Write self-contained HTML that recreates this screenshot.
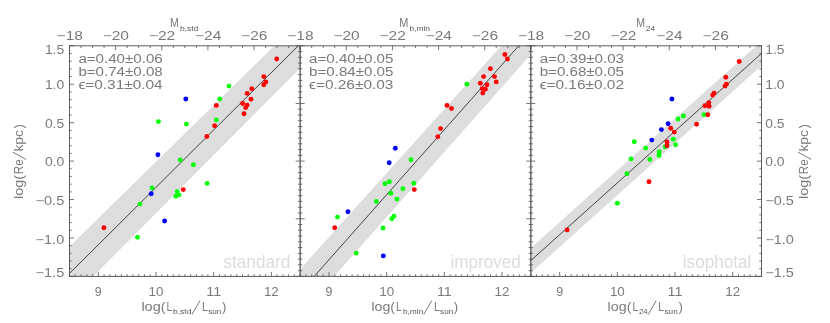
<!DOCTYPE html>
<html><head><meta charset="utf-8"><title>plot</title>
<style>html,body{margin:0;padding:0;background:#fff;width:830px;height:323px;overflow:hidden}svg{will-change:transform}</style></head>
<body>
<svg width="830" height="323" viewBox="0 0 830 323" style="display:block;position:absolute;left:0;top:0" font-family="'Liberation Sans', sans-serif">
<rect x="0" y="0" width="830" height="323" fill="#ffffff"/>
<defs>
<clipPath id="c0"><rect x="69.50" y="45.80" width="230.67" height="230.60"/></clipPath>
<clipPath id="c1"><rect x="300.17" y="45.80" width="230.67" height="230.60"/></clipPath>
<clipPath id="c2"><rect x="530.84" y="45.80" width="230.67" height="230.60"/></clipPath>
</defs>
<g clip-path="url(#c0)">
<polygon points="39.50,275.79 330.17,-8.93 330.17,37.94 39.50,330.44" fill="#dddddd"/>
<line x1="39.50" y1="303.24" x2="330.17" y2="14.10" stroke="#333" stroke-width="0.9"/>
</g>
<g clip-path="url(#c1)">
<polygon points="270.17,302.52 560.84,-20.30 560.84,20.60 270.17,348.52" fill="#dddddd"/>
<line x1="270.17" y1="326.04" x2="560.84" y2="-1.69" stroke="#333" stroke-width="0.9"/>
</g>
<g clip-path="url(#c2)">
<polygon points="500.84,274.98 791.51,14.17 791.51,38.86 500.84,299.80" fill="#dddddd"/>
<line x1="500.84" y1="287.51" x2="791.51" y2="26.45" stroke="#333" stroke-width="0.9"/>
</g>
<text x="223.3" y="267.6" font-size="17.5" fill="#dcdcdc" textLength="67.1" lengthAdjust="spacingAndGlyphs">standard</text>
<text x="450.4" y="267.6" font-size="17.5" fill="#dcdcdc" textLength="70.4" lengthAdjust="spacingAndGlyphs">improved</text>
<text x="682.8" y="267.6" font-size="17.5" fill="#dcdcdc" textLength="68.5" lengthAdjust="spacingAndGlyphs">isophotal</text>
<circle cx="185.8" cy="99.0" r="2.45" fill="#0000ff"/>
<circle cx="157.9" cy="154.7" r="2.45" fill="#0000ff"/>
<circle cx="151.2" cy="193.8" r="2.45" fill="#0000ff"/>
<circle cx="164.6" cy="221.0" r="2.45" fill="#0000ff"/>
<circle cx="228.9" cy="86.1" r="2.45" fill="#00ff00"/>
<circle cx="219.7" cy="99.0" r="2.45" fill="#00ff00"/>
<circle cx="216.3" cy="119.9" r="2.45" fill="#00ff00"/>
<circle cx="158.4" cy="121.6" r="2.45" fill="#00ff00"/>
<circle cx="186.4" cy="124.1" r="2.45" fill="#00ff00"/>
<circle cx="180.2" cy="160.0" r="2.45" fill="#00ff00"/>
<circle cx="193.4" cy="164.7" r="2.45" fill="#00ff00"/>
<circle cx="207.1" cy="183.4" r="2.45" fill="#00ff00"/>
<circle cx="152.0" cy="187.9" r="2.45" fill="#00ff00"/>
<circle cx="177.2" cy="191.6" r="2.45" fill="#00ff00"/>
<circle cx="178.9" cy="194.9" r="2.45" fill="#00ff00"/>
<circle cx="175.8" cy="196.3" r="2.45" fill="#00ff00"/>
<circle cx="140.0" cy="204.1" r="2.45" fill="#00ff00"/>
<circle cx="137.5" cy="237.2" r="2.45" fill="#00ff00"/>
<circle cx="276.7" cy="59.0" r="2.45" fill="#ff0000"/>
<circle cx="263.8" cy="76.6" r="2.45" fill="#ff0000"/>
<circle cx="265.8" cy="81.9" r="2.45" fill="#ff0000"/>
<circle cx="263.8" cy="84.7" r="2.45" fill="#ff0000"/>
<circle cx="251.8" cy="88.7" r="2.45" fill="#ff0000"/>
<circle cx="247.2" cy="93.4" r="2.45" fill="#ff0000"/>
<circle cx="251.0" cy="99.3" r="2.45" fill="#ff0000"/>
<circle cx="242.6" cy="103.5" r="2.45" fill="#ff0000"/>
<circle cx="247.1" cy="105.1" r="2.45" fill="#ff0000"/>
<circle cx="245.7" cy="107.6" r="2.45" fill="#ff0000"/>
<circle cx="244.0" cy="113.8" r="2.45" fill="#ff0000"/>
<circle cx="216.3" cy="105.4" r="2.45" fill="#ff0000"/>
<circle cx="214.6" cy="125.8" r="2.45" fill="#ff0000"/>
<circle cx="206.8" cy="136.5" r="2.45" fill="#ff0000"/>
<circle cx="183.3" cy="189.6" r="2.45" fill="#ff0000"/>
<circle cx="103.9" cy="227.7" r="2.45" fill="#ff0000"/>
<circle cx="395.3" cy="148.2" r="2.45" fill="#0000ff"/>
<circle cx="389.2" cy="162.8" r="2.45" fill="#0000ff"/>
<circle cx="347.9" cy="211.8" r="2.45" fill="#0000ff"/>
<circle cx="383.3" cy="255.9" r="2.45" fill="#0000ff"/>
<circle cx="466.9" cy="84.2" r="2.45" fill="#00ff00"/>
<circle cx="411.0" cy="159.7" r="2.45" fill="#00ff00"/>
<circle cx="389.4" cy="181.8" r="2.45" fill="#00ff00"/>
<circle cx="385.0" cy="183.7" r="2.45" fill="#00ff00"/>
<circle cx="413.8" cy="183.2" r="2.45" fill="#00ff00"/>
<circle cx="402.9" cy="188.8" r="2.45" fill="#00ff00"/>
<circle cx="390.8" cy="193.2" r="2.45" fill="#00ff00"/>
<circle cx="397.0" cy="199.1" r="2.45" fill="#00ff00"/>
<circle cx="376.3" cy="201.5" r="2.45" fill="#00ff00"/>
<circle cx="337.5" cy="217.1" r="2.45" fill="#00ff00"/>
<circle cx="393.9" cy="216.2" r="2.45" fill="#00ff00"/>
<circle cx="391.7" cy="218.8" r="2.45" fill="#00ff00"/>
<circle cx="383.0" cy="228.0" r="2.45" fill="#00ff00"/>
<circle cx="356.2" cy="253.1" r="2.45" fill="#00ff00"/>
<circle cx="504.9" cy="54.5" r="2.45" fill="#ff0000"/>
<circle cx="507.4" cy="59.0" r="2.45" fill="#ff0000"/>
<circle cx="490.4" cy="68.8" r="2.45" fill="#ff0000"/>
<circle cx="483.6" cy="76.6" r="2.45" fill="#ff0000"/>
<circle cx="494.5" cy="76.6" r="2.45" fill="#ff0000"/>
<circle cx="496.2" cy="81.9" r="2.45" fill="#ff0000"/>
<circle cx="480.3" cy="83.3" r="2.45" fill="#ff0000"/>
<circle cx="487.0" cy="84.7" r="2.45" fill="#ff0000"/>
<circle cx="482.2" cy="88.6" r="2.45" fill="#ff0000"/>
<circle cx="485.3" cy="89.2" r="2.45" fill="#ff0000"/>
<circle cx="482.8" cy="93.1" r="2.45" fill="#ff0000"/>
<circle cx="447.0" cy="105.4" r="2.45" fill="#ff0000"/>
<circle cx="451.5" cy="108.5" r="2.45" fill="#ff0000"/>
<circle cx="440.6" cy="128.6" r="2.45" fill="#ff0000"/>
<circle cx="437.8" cy="136.8" r="2.45" fill="#ff0000"/>
<circle cx="414.3" cy="189.6" r="2.45" fill="#ff0000"/>
<circle cx="334.7" cy="227.7" r="2.45" fill="#ff0000"/>
<circle cx="671.9" cy="99.0" r="2.45" fill="#0000ff"/>
<circle cx="668.1" cy="123.8" r="2.45" fill="#0000ff"/>
<circle cx="661.4" cy="129.6" r="2.45" fill="#0000ff"/>
<circle cx="651.8" cy="140.1" r="2.45" fill="#0000ff"/>
<circle cx="703.9" cy="114.8" r="2.45" fill="#00ff00"/>
<circle cx="683.4" cy="116.0" r="2.45" fill="#00ff00"/>
<circle cx="678.0" cy="119.0" r="2.45" fill="#00ff00"/>
<circle cx="673.3" cy="139.2" r="2.45" fill="#00ff00"/>
<circle cx="634.2" cy="141.7" r="2.45" fill="#00ff00"/>
<circle cx="675.6" cy="144.7" r="2.45" fill="#00ff00"/>
<circle cx="665.2" cy="146.8" r="2.45" fill="#00ff00"/>
<circle cx="645.7" cy="148.1" r="2.45" fill="#00ff00"/>
<circle cx="659.2" cy="151.8" r="2.45" fill="#00ff00"/>
<circle cx="659.0" cy="155.5" r="2.45" fill="#00ff00"/>
<circle cx="631.0" cy="158.9" r="2.45" fill="#00ff00"/>
<circle cx="649.8" cy="159.4" r="2.45" fill="#00ff00"/>
<circle cx="626.9" cy="173.7" r="2.45" fill="#00ff00"/>
<circle cx="617.4" cy="203.3" r="2.45" fill="#00ff00"/>
<circle cx="739.2" cy="61.5" r="2.45" fill="#ff0000"/>
<circle cx="725.8" cy="77.2" r="2.45" fill="#ff0000"/>
<circle cx="726.4" cy="84.2" r="2.45" fill="#ff0000"/>
<circle cx="725.0" cy="86.1" r="2.45" fill="#ff0000"/>
<circle cx="714.1" cy="93.1" r="2.45" fill="#ff0000"/>
<circle cx="712.7" cy="95.1" r="2.45" fill="#ff0000"/>
<circle cx="708.8" cy="102.6" r="2.45" fill="#ff0000"/>
<circle cx="704.9" cy="105.7" r="2.45" fill="#ff0000"/>
<circle cx="709.1" cy="106.2" r="2.45" fill="#ff0000"/>
<circle cx="707.8" cy="114.8" r="2.45" fill="#ff0000"/>
<circle cx="696.6" cy="124.2" r="2.45" fill="#ff0000"/>
<circle cx="670.7" cy="128.2" r="2.45" fill="#ff0000"/>
<circle cx="674.3" cy="132.1" r="2.45" fill="#ff0000"/>
<circle cx="667.0" cy="142.0" r="2.45" fill="#ff0000"/>
<circle cx="667.0" cy="145.7" r="2.45" fill="#ff0000"/>
<circle cx="649.0" cy="181.8" r="2.45" fill="#ff0000"/>
<circle cx="567.1" cy="229.9" r="2.45" fill="#ff0000"/>
<path d="M69.50 276.40L69.50 274.20M75.27 276.40L75.27 274.20M81.03 276.40L81.03 274.20M86.80 276.40L86.80 274.20M92.57 276.40L92.57 274.20M98.33 276.40L98.33 271.90M104.10 276.40L104.10 274.20M109.87 276.40L109.87 274.20M115.63 276.40L115.63 274.20M121.40 276.40L121.40 274.20M127.17 276.40L127.17 274.20M132.93 276.40L132.93 274.20M138.70 276.40L138.70 274.20M144.47 276.40L144.47 274.20M150.23 276.40L150.23 274.20M156.00 276.40L156.00 271.90M161.77 276.40L161.77 274.20M167.53 276.40L167.53 274.20M173.30 276.40L173.30 274.20M179.07 276.40L179.07 274.20M184.83 276.40L184.83 274.20M190.60 276.40L190.60 274.20M196.37 276.40L196.37 274.20M202.14 276.40L202.14 274.20M207.90 276.40L207.90 274.20M213.67 276.40L213.67 271.90M219.44 276.40L219.44 274.20M225.20 276.40L225.20 274.20M230.97 276.40L230.97 274.20M236.74 276.40L236.74 274.20M242.50 276.40L242.50 274.20M248.27 276.40L248.27 274.20M254.04 276.40L254.04 274.20M259.80 276.40L259.80 274.20M265.57 276.40L265.57 274.20M271.34 276.40L271.34 271.90M277.10 276.40L277.10 274.20M282.87 276.40L282.87 274.20M288.64 276.40L288.64 274.20M294.40 276.40L294.40 274.20M300.17 276.40L300.17 274.20M69.50 45.80L69.50 50.30M81.03 45.80L81.03 48.00M92.57 45.80L92.57 48.00M104.10 45.80L104.10 48.00M115.63 45.80L115.63 50.30M127.17 45.80L127.17 48.00M138.70 45.80L138.70 48.00M150.23 45.80L150.23 48.00M161.77 45.80L161.77 50.30M173.30 45.80L173.30 48.00M184.83 45.80L184.83 48.00M196.37 45.80L196.37 48.00M207.90 45.80L207.90 50.30M219.44 45.80L219.44 48.00M230.97 45.80L230.97 48.00M242.50 45.80L242.50 48.00M254.04 45.80L254.04 50.30M265.57 45.80L265.57 48.00M277.10 45.80L277.10 48.00M288.64 45.80L288.64 48.00M300.17 45.80L300.17 50.30M300.17 276.40L300.17 274.20M305.94 276.40L305.94 274.20M311.70 276.40L311.70 274.20M317.47 276.40L317.47 274.20M323.24 276.40L323.24 274.20M329.00 276.40L329.00 271.90M334.77 276.40L334.77 274.20M340.54 276.40L340.54 274.20M346.30 276.40L346.30 274.20M352.07 276.40L352.07 274.20M357.84 276.40L357.84 274.20M363.60 276.40L363.60 274.20M369.37 276.40L369.37 274.20M375.14 276.40L375.14 274.20M380.90 276.40L380.90 274.20M386.67 276.40L386.67 271.90M392.44 276.40L392.44 274.20M398.20 276.40L398.20 274.20M403.97 276.40L403.97 274.20M409.74 276.40L409.74 274.20M415.50 276.40L415.50 274.20M421.27 276.40L421.27 274.20M427.04 276.40L427.04 274.20M432.81 276.40L432.81 274.20M438.57 276.40L438.57 274.20M444.34 276.40L444.34 271.90M450.11 276.40L450.11 274.20M455.87 276.40L455.87 274.20M461.64 276.40L461.64 274.20M467.41 276.40L467.41 274.20M473.17 276.40L473.17 274.20M478.94 276.40L478.94 274.20M484.71 276.40L484.71 274.20M490.47 276.40L490.47 274.20M496.24 276.40L496.24 274.20M502.01 276.40L502.01 271.90M507.77 276.40L507.77 274.20M513.54 276.40L513.54 274.20M519.31 276.40L519.31 274.20M525.07 276.40L525.07 274.20M530.84 276.40L530.84 274.20M300.17 45.80L300.17 50.30M311.70 45.80L311.70 48.00M323.24 45.80L323.24 48.00M334.77 45.80L334.77 48.00M346.30 45.80L346.30 50.30M357.84 45.80L357.84 48.00M369.37 45.80L369.37 48.00M380.90 45.80L380.90 48.00M392.44 45.80L392.44 50.30M403.97 45.80L403.97 48.00M415.50 45.80L415.50 48.00M427.04 45.80L427.04 48.00M438.57 45.80L438.57 50.30M450.11 45.80L450.11 48.00M461.64 45.80L461.64 48.00M473.17 45.80L473.17 48.00M484.71 45.80L484.71 50.30M496.24 45.80L496.24 48.00M507.77 45.80L507.77 48.00M519.31 45.80L519.31 48.00M530.84 45.80L530.84 50.30M530.84 276.40L530.84 274.20M536.61 276.40L536.61 274.20M542.37 276.40L542.37 274.20M548.14 276.40L548.14 274.20M553.91 276.40L553.91 274.20M559.67 276.40L559.67 271.90M565.44 276.40L565.44 274.20M571.21 276.40L571.21 274.20M576.97 276.40L576.97 274.20M582.74 276.40L582.74 274.20M588.51 276.40L588.51 274.20M594.27 276.40L594.27 274.20M600.04 276.40L600.04 274.20M605.81 276.40L605.81 274.20M611.57 276.40L611.57 274.20M617.34 276.40L617.34 271.90M623.11 276.40L623.11 274.20M628.87 276.40L628.87 274.20M634.64 276.40L634.64 274.20M640.41 276.40L640.41 274.20M646.17 276.40L646.17 274.20M651.94 276.40L651.94 274.20M657.71 276.40L657.71 274.20M663.48 276.40L663.48 274.20M669.24 276.40L669.24 274.20M675.01 276.40L675.01 271.90M680.78 276.40L680.78 274.20M686.54 276.40L686.54 274.20M692.31 276.40L692.31 274.20M698.08 276.40L698.08 274.20M703.84 276.40L703.84 274.20M709.61 276.40L709.61 274.20M715.38 276.40L715.38 274.20M721.14 276.40L721.14 274.20M726.91 276.40L726.91 274.20M732.68 276.40L732.68 271.90M738.44 276.40L738.44 274.20M744.21 276.40L744.21 274.20M749.98 276.40L749.98 274.20M755.74 276.40L755.74 274.20M761.51 276.40L761.51 274.20M530.84 45.80L530.84 50.30M542.37 45.80L542.37 48.00M553.91 45.80L553.91 48.00M565.44 45.80L565.44 48.00M576.97 45.80L576.97 50.30M588.51 45.80L588.51 48.00M600.04 45.80L600.04 48.00M611.57 45.80L611.57 48.00M623.11 45.80L623.11 50.30M634.64 45.80L634.64 48.00M646.17 45.80L646.17 48.00M657.71 45.80L657.71 48.00M669.24 45.80L669.24 50.30M680.78 45.80L680.78 48.00M692.31 45.80L692.31 48.00M703.84 45.80L703.84 48.00M715.38 45.80L715.38 50.30M726.91 45.80L726.91 48.00M738.44 45.80L738.44 48.00M749.98 45.80L749.98 48.00M761.51 45.80L761.51 50.30M69.50 45.80L74.00 45.80M761.51 45.80L757.01 45.80M69.50 53.49L71.70 53.49M761.51 53.49L759.31 53.49M69.50 61.17L71.70 61.17M761.51 61.17L759.31 61.17M69.50 68.86L71.70 68.86M761.51 68.86L759.31 68.86M69.50 76.55L71.70 76.55M761.51 76.55L759.31 76.55M69.50 84.23L74.00 84.23M761.51 84.23L757.01 84.23M69.50 91.92L71.70 91.92M761.51 91.92L759.31 91.92M69.50 99.61L71.70 99.61M761.51 99.61L759.31 99.61M69.50 107.29L71.70 107.29M761.51 107.29L759.31 107.29M69.50 114.98L71.70 114.98M761.51 114.98L759.31 114.98M69.50 122.67L74.00 122.67M761.51 122.67L757.01 122.67M69.50 130.35L71.70 130.35M761.51 130.35L759.31 130.35M69.50 138.04L71.70 138.04M761.51 138.04L759.31 138.04M69.50 145.73L71.70 145.73M761.51 145.73L759.31 145.73M69.50 153.41L71.70 153.41M761.51 153.41L759.31 153.41M69.50 161.10L74.00 161.10M761.51 161.10L757.01 161.10M69.50 168.79L71.70 168.79M761.51 168.79L759.31 168.79M69.50 176.47L71.70 176.47M761.51 176.47L759.31 176.47M69.50 184.16L71.70 184.16M761.51 184.16L759.31 184.16M69.50 191.85L71.70 191.85M761.51 191.85L759.31 191.85M69.50 199.53L74.00 199.53M761.51 199.53L757.01 199.53M69.50 207.22L71.70 207.22M761.51 207.22L759.31 207.22M69.50 214.91L71.70 214.91M761.51 214.91L759.31 214.91M69.50 222.59L71.70 222.59M761.51 222.59L759.31 222.59M69.50 230.28L71.70 230.28M761.51 230.28L759.31 230.28M69.50 237.97L74.00 237.97M761.51 237.97L757.01 237.97M69.50 245.65L71.70 245.65M761.51 245.65L759.31 245.65M69.50 253.34L71.70 253.34M761.51 253.34L759.31 253.34M69.50 261.03L71.70 261.03M761.51 261.03L759.31 261.03M69.50 268.71L71.70 268.71M761.51 268.71L759.31 268.71M69.50 276.40L74.00 276.40M761.51 276.40L757.01 276.40M295.67 45.80L304.67 45.80M297.97 51.56L302.37 51.56M297.97 57.33L302.37 57.33M297.97 63.09L302.37 63.09M297.97 68.86L302.37 68.86M297.97 74.62L302.37 74.62M297.97 80.39L302.37 80.39M297.97 86.16L302.37 86.16M297.97 91.92L302.37 91.92M297.97 97.68L302.37 97.68M295.67 103.45L304.67 103.45M297.97 109.21L302.37 109.21M297.97 114.98L302.37 114.98M297.97 120.74L302.37 120.74M297.97 126.51L302.37 126.51M297.97 132.27L302.37 132.27M297.97 138.04L302.37 138.04M297.97 143.80L302.37 143.80M297.97 149.57L302.37 149.57M297.97 155.33L302.37 155.33M295.67 161.10L304.67 161.10M297.97 166.86L302.37 166.86M297.97 172.63L302.37 172.63M297.97 178.39L302.37 178.39M297.97 184.16L302.37 184.16M297.97 189.92L302.37 189.92M297.97 195.69L302.37 195.69M297.97 201.45L302.37 201.45M297.97 207.22L302.37 207.22M297.97 212.98L302.37 212.98M295.67 218.75L304.67 218.75M297.97 224.51L302.37 224.51M297.97 230.28L302.37 230.28M297.97 236.04L302.37 236.04M297.97 241.81L302.37 241.81M297.97 247.57L302.37 247.57M297.97 253.34L302.37 253.34M297.97 259.10L302.37 259.10M297.97 264.87L302.37 264.87M297.97 270.63L302.37 270.63M295.67 276.40L304.67 276.40M526.34 45.80L535.34 45.80M528.64 51.56L533.04 51.56M528.64 57.33L533.04 57.33M528.64 63.09L533.04 63.09M528.64 68.86L533.04 68.86M528.64 74.62L533.04 74.62M528.64 80.39L533.04 80.39M528.64 86.16L533.04 86.16M528.64 91.92L533.04 91.92M528.64 97.68L533.04 97.68M526.34 103.45L535.34 103.45M528.64 109.21L533.04 109.21M528.64 114.98L533.04 114.98M528.64 120.74L533.04 120.74M528.64 126.51L533.04 126.51M528.64 132.27L533.04 132.27M528.64 138.04L533.04 138.04M528.64 143.80L533.04 143.80M528.64 149.57L533.04 149.57M528.64 155.33L533.04 155.33M526.34 161.10L535.34 161.10M528.64 166.86L533.04 166.86M528.64 172.63L533.04 172.63M528.64 178.39L533.04 178.39M528.64 184.16L533.04 184.16M528.64 189.92L533.04 189.92M528.64 195.69L533.04 195.69M528.64 201.45L533.04 201.45M528.64 207.22L533.04 207.22M528.64 212.98L533.04 212.98M526.34 218.75L535.34 218.75M528.64 224.51L533.04 224.51M528.64 230.28L533.04 230.28M528.64 236.04L533.04 236.04M528.64 241.81L533.04 241.81M528.64 247.57L533.04 247.57M528.64 253.34L533.04 253.34M528.64 259.10L533.04 259.10M528.64 264.87L533.04 264.87M528.64 270.63L533.04 270.63M526.34 276.40L535.34 276.40" stroke="#686868" stroke-width="0.9" fill="none"/>
<rect x="69.50" y="45.80" width="692.01" height="230.60" fill="none" stroke="#555555" stroke-width="0.95"/>
<line x1="300.17" y1="45.80" x2="300.17" y2="276.40" stroke="#555555" stroke-width="1.3"/>
<line x1="530.84" y1="45.80" x2="530.84" y2="276.40" stroke="#555555" stroke-width="1.3"/>
<text x="56.6" y="39.7" font-size="12.2" fill="#7a7a7a" text-anchor="start" textLength="26.3" lengthAdjust="spacingAndGlyphs">−18</text>
<text x="102.7" y="39.7" font-size="12.2" fill="#7a7a7a" text-anchor="start" textLength="26.3" lengthAdjust="spacingAndGlyphs">−20</text>
<text x="148.9" y="39.7" font-size="12.2" fill="#7a7a7a" text-anchor="start" textLength="26.3" lengthAdjust="spacingAndGlyphs">−22</text>
<text x="195.0" y="39.7" font-size="12.2" fill="#7a7a7a" text-anchor="start" textLength="26.3" lengthAdjust="spacingAndGlyphs">−24</text>
<text x="241.1" y="39.7" font-size="12.2" fill="#7a7a7a" text-anchor="start" textLength="26.3" lengthAdjust="spacingAndGlyphs">−26</text>
<text x="333.4" y="39.7" font-size="12.2" fill="#7a7a7a" text-anchor="start" textLength="26.3" lengthAdjust="spacingAndGlyphs">−20</text>
<text x="379.5" y="39.7" font-size="12.2" fill="#7a7a7a" text-anchor="start" textLength="26.3" lengthAdjust="spacingAndGlyphs">−22</text>
<text x="425.7" y="39.7" font-size="12.2" fill="#7a7a7a" text-anchor="start" textLength="26.3" lengthAdjust="spacingAndGlyphs">−24</text>
<text x="471.8" y="39.7" font-size="12.2" fill="#7a7a7a" text-anchor="start" textLength="26.3" lengthAdjust="spacingAndGlyphs">−26</text>
<text x="564.1" y="39.7" font-size="12.2" fill="#7a7a7a" text-anchor="start" textLength="26.3" lengthAdjust="spacingAndGlyphs">−20</text>
<text x="610.2" y="39.7" font-size="12.2" fill="#7a7a7a" text-anchor="start" textLength="26.3" lengthAdjust="spacingAndGlyphs">−22</text>
<text x="656.3" y="39.7" font-size="12.2" fill="#7a7a7a" text-anchor="start" textLength="26.3" lengthAdjust="spacingAndGlyphs">−24</text>
<text x="702.5" y="39.7" font-size="12.2" fill="#7a7a7a" text-anchor="start" textLength="26.3" lengthAdjust="spacingAndGlyphs">−26</text>
<text x="287.3" y="39.7" font-size="12.2" fill="#7a7a7a" text-anchor="start" textLength="26.3" lengthAdjust="spacingAndGlyphs">−18</text>
<text x="517.9" y="39.7" font-size="12.2" fill="#7a7a7a" text-anchor="start" textLength="26.3" lengthAdjust="spacingAndGlyphs">−18</text>
<text x="94.8" y="295.9" font-size="12.2" fill="#7a7a7a" text-anchor="start" textLength="6.9" lengthAdjust="spacingAndGlyphs">9</text>
<text x="148.6" y="295.9" font-size="12.2" fill="#7a7a7a" text-anchor="start" textLength="14.9" lengthAdjust="spacingAndGlyphs">10</text>
<text x="206.3" y="295.9" font-size="12.2" fill="#7a7a7a" text-anchor="start" textLength="14.9" lengthAdjust="spacingAndGlyphs">11</text>
<text x="263.9" y="295.9" font-size="12.2" fill="#7a7a7a" text-anchor="start" textLength="14.9" lengthAdjust="spacingAndGlyphs">12</text>
<text x="325.5" y="295.9" font-size="12.2" fill="#7a7a7a" text-anchor="start" textLength="6.9" lengthAdjust="spacingAndGlyphs">9</text>
<text x="379.3" y="295.9" font-size="12.2" fill="#7a7a7a" text-anchor="start" textLength="14.9" lengthAdjust="spacingAndGlyphs">10</text>
<text x="436.9" y="295.9" font-size="12.2" fill="#7a7a7a" text-anchor="start" textLength="14.9" lengthAdjust="spacingAndGlyphs">11</text>
<text x="494.6" y="295.9" font-size="12.2" fill="#7a7a7a" text-anchor="start" textLength="14.9" lengthAdjust="spacingAndGlyphs">12</text>
<text x="556.2" y="295.9" font-size="12.2" fill="#7a7a7a" text-anchor="start" textLength="6.9" lengthAdjust="spacingAndGlyphs">9</text>
<text x="609.9" y="295.9" font-size="12.2" fill="#7a7a7a" text-anchor="start" textLength="14.9" lengthAdjust="spacingAndGlyphs">10</text>
<text x="667.6" y="295.9" font-size="12.2" fill="#7a7a7a" text-anchor="start" textLength="14.9" lengthAdjust="spacingAndGlyphs">11</text>
<text x="725.3" y="295.9" font-size="12.2" fill="#7a7a7a" text-anchor="start" textLength="14.9" lengthAdjust="spacingAndGlyphs">12</text>
<text x="44.9" y="54.3" font-size="12.2" fill="#7a7a7a" text-anchor="start" textLength="19.3" lengthAdjust="spacingAndGlyphs">1.5</text>
<text x="765.3" y="54.3" font-size="12.2" fill="#7a7a7a" text-anchor="start" textLength="19.3" lengthAdjust="spacingAndGlyphs">1.5</text>
<text x="44.9" y="89.3" font-size="12.2" fill="#7a7a7a" text-anchor="start" textLength="19.3" lengthAdjust="spacingAndGlyphs">1.0</text>
<text x="765.3" y="89.3" font-size="12.2" fill="#7a7a7a" text-anchor="start" textLength="19.3" lengthAdjust="spacingAndGlyphs">1.0</text>
<text x="44.9" y="127.8" font-size="12.2" fill="#7a7a7a" text-anchor="start" textLength="19.3" lengthAdjust="spacingAndGlyphs">0.5</text>
<text x="765.3" y="127.8" font-size="12.2" fill="#7a7a7a" text-anchor="start" textLength="19.3" lengthAdjust="spacingAndGlyphs">0.5</text>
<text x="44.9" y="166.2" font-size="12.2" fill="#7a7a7a" text-anchor="start" textLength="19.3" lengthAdjust="spacingAndGlyphs">0.0</text>
<text x="765.3" y="166.2" font-size="12.2" fill="#7a7a7a" text-anchor="start" textLength="19.3" lengthAdjust="spacingAndGlyphs">0.0</text>
<text x="35.6" y="204.6" font-size="12.2" fill="#7a7a7a" text-anchor="start" textLength="28.6" lengthAdjust="spacingAndGlyphs">−0.5</text>
<text x="765.3" y="204.6" font-size="12.2" fill="#7a7a7a" text-anchor="start" textLength="28.6" lengthAdjust="spacingAndGlyphs">−0.5</text>
<text x="35.6" y="243.5" font-size="12.2" fill="#7a7a7a" text-anchor="start" textLength="28.6" lengthAdjust="spacingAndGlyphs">−1.0</text>
<text x="765.3" y="243.5" font-size="12.2" fill="#7a7a7a" text-anchor="start" textLength="28.6" lengthAdjust="spacingAndGlyphs">−1.0</text>
<text x="35.6" y="276.9" font-size="12.2" fill="#7a7a7a" text-anchor="start" textLength="28.6" lengthAdjust="spacingAndGlyphs">−1.5</text>
<text x="765.3" y="276.9" font-size="12.2" fill="#7a7a7a" text-anchor="start" textLength="28.6" lengthAdjust="spacingAndGlyphs">−1.5</text>
<g transform="translate(22.8,198.4) rotate(-90)" font-size="12.5" fill="#7a7a7a">
<text x="-0.6" y="0" textLength="24.2" lengthAdjust="spacingAndGlyphs">log(</text>
<text x="24.2" y="0" textLength="14.8" lengthAdjust="spacingAndGlyphs">Re</text>
<line x1="38.9" y1="3.3" x2="46.3" y2="-10.0" stroke="#7a7a7a" stroke-width="1"/>
<text x="46.8" y="0" textLength="21.6" lengthAdjust="spacingAndGlyphs">kpc</text>
<text x="70.0" y="0" textLength="4.4" lengthAdjust="spacingAndGlyphs">)</text>
</g>
<g transform="translate(808.0,198.4) rotate(-90)" font-size="12.5" fill="#7a7a7a">
<text x="-0.6" y="0" textLength="24.2" lengthAdjust="spacingAndGlyphs">log(</text>
<text x="24.2" y="0" textLength="14.8" lengthAdjust="spacingAndGlyphs">Re</text>
<line x1="38.9" y1="3.3" x2="46.3" y2="-10.0" stroke="#7a7a7a" stroke-width="1"/>
<text x="46.8" y="0" textLength="21.6" lengthAdjust="spacingAndGlyphs">kpc</text>
<text x="70.0" y="0" textLength="4.4" lengthAdjust="spacingAndGlyphs">)</text>
</g>
<text x="78.4" y="62.5" font-size="12.3" fill="#7a7a7a" text-anchor="start" textLength="84.3" lengthAdjust="spacingAndGlyphs">a=0.40±0.06</text>
<text x="78.4" y="76.0" font-size="12.3" fill="#7a7a7a" text-anchor="start" textLength="84.3" lengthAdjust="spacingAndGlyphs">b=0.74±0.08</text>
<text x="78.4" y="89.4" font-size="12.3" fill="#7a7a7a" text-anchor="start" textLength="84.3" lengthAdjust="spacingAndGlyphs">ϵ=0.31±0.04</text>
<text x="309.1" y="62.5" font-size="12.3" fill="#7a7a7a" text-anchor="start" textLength="84.3" lengthAdjust="spacingAndGlyphs">a=0.40±0.05</text>
<text x="309.1" y="76.0" font-size="12.3" fill="#7a7a7a" text-anchor="start" textLength="84.3" lengthAdjust="spacingAndGlyphs">b=0.84±0.05</text>
<text x="309.1" y="89.4" font-size="12.3" fill="#7a7a7a" text-anchor="start" textLength="84.3" lengthAdjust="spacingAndGlyphs">ϵ=0.26±0.03</text>
<text x="539.7" y="62.5" font-size="12.3" fill="#7a7a7a" text-anchor="start" textLength="84.3" lengthAdjust="spacingAndGlyphs">a=0.39±0.03</text>
<text x="539.7" y="76.0" font-size="12.3" fill="#7a7a7a" text-anchor="start" textLength="84.3" lengthAdjust="spacingAndGlyphs">b=0.68±0.05</text>
<text x="539.7" y="89.4" font-size="12.3" fill="#7a7a7a" text-anchor="start" textLength="84.3" lengthAdjust="spacingAndGlyphs">ϵ=0.16±0.02</text>
<text x="170.0" y="27.3" font-size="12.2" fill="#7a7a7a" text-anchor="start" textLength="8.9" lengthAdjust="spacingAndGlyphs">M</text>
<text x="179.9" y="31.0" font-size="8.0" fill="#585858" text-anchor="start" textLength="18.4" lengthAdjust="spacingAndGlyphs">b,std</text>
<text x="399.3" y="27.3" font-size="12.2" fill="#7a7a7a" text-anchor="start" textLength="9.1" lengthAdjust="spacingAndGlyphs">M</text>
<text x="409.6" y="31.0" font-size="8.0" fill="#585858" text-anchor="start" textLength="20.4" lengthAdjust="spacingAndGlyphs">b,min</text>
<text x="636.2" y="27.3" font-size="12.2" fill="#7a7a7a" text-anchor="start" textLength="8.8" lengthAdjust="spacingAndGlyphs">M</text>
<text x="645.7" y="31.0" font-size="8.0" fill="#585858" text-anchor="start" textLength="9.4" lengthAdjust="spacingAndGlyphs">24</text>
<text x="141.4" y="310.7" font-size="12.5" fill="#7a7a7a" text-anchor="start" textLength="24.2" lengthAdjust="spacingAndGlyphs">log(</text>
<text x="166.6" y="310.7" font-size="12.5" fill="#7a7a7a" text-anchor="start" textLength="5.8" lengthAdjust="spacingAndGlyphs">L</text>
<text x="172.9" y="314.1" font-size="8.0" fill="#585858" text-anchor="start" textLength="18.6" lengthAdjust="spacingAndGlyphs">b,std</text>
<line x1="191.9" y1="314.6" x2="200.0" y2="300.6" stroke="#7a7a7a" stroke-width="1"/>
<text x="202.0" y="310.7" font-size="12.5" fill="#7a7a7a" text-anchor="start" textLength="5.8" lengthAdjust="spacingAndGlyphs">L</text>
<text x="208.2" y="314.1" font-size="8.0" fill="#585858" text-anchor="start" textLength="13.2" lengthAdjust="spacingAndGlyphs">sun</text>
<text x="221.9" y="310.7" font-size="12.5" fill="#7a7a7a" text-anchor="start" textLength="4.4" lengthAdjust="spacingAndGlyphs">)</text>
<text x="371.4" y="310.7" font-size="12.5" fill="#7a7a7a" text-anchor="start" textLength="23.6" lengthAdjust="spacingAndGlyphs">log(</text>
<text x="396.0" y="310.7" font-size="12.5" fill="#7a7a7a" text-anchor="start" textLength="5.8" lengthAdjust="spacingAndGlyphs">L</text>
<text x="402.9" y="314.1" font-size="8.0" fill="#585858" text-anchor="start" textLength="20.4" lengthAdjust="spacingAndGlyphs">b,min</text>
<line x1="423.7" y1="314.6" x2="431.8" y2="300.6" stroke="#7a7a7a" stroke-width="1"/>
<text x="433.9" y="310.7" font-size="12.5" fill="#7a7a7a" text-anchor="start" textLength="5.8" lengthAdjust="spacingAndGlyphs">L</text>
<text x="440.1" y="314.1" font-size="8.0" fill="#585858" text-anchor="start" textLength="13.2" lengthAdjust="spacingAndGlyphs">sun</text>
<text x="453.7" y="310.7" font-size="12.5" fill="#7a7a7a" text-anchor="start" textLength="4.4" lengthAdjust="spacingAndGlyphs">)</text>
<text x="607.6" y="310.7" font-size="12.5" fill="#7a7a7a" text-anchor="start" textLength="23.9" lengthAdjust="spacingAndGlyphs">log(</text>
<text x="632.5" y="310.7" font-size="12.5" fill="#7a7a7a" text-anchor="start" textLength="5.8" lengthAdjust="spacingAndGlyphs">L</text>
<text x="639.0" y="314.1" font-size="8.0" fill="#585858" text-anchor="start" textLength="8.7" lengthAdjust="spacingAndGlyphs">24</text>
<line x1="648.1" y1="314.6" x2="656.2" y2="300.6" stroke="#7a7a7a" stroke-width="1"/>
<text x="658.3" y="310.7" font-size="12.5" fill="#7a7a7a" text-anchor="start" textLength="5.8" lengthAdjust="spacingAndGlyphs">L</text>
<text x="664.5" y="314.1" font-size="8.0" fill="#585858" text-anchor="start" textLength="13.2" lengthAdjust="spacingAndGlyphs">sun</text>
<text x="678.4" y="310.7" font-size="12.5" fill="#7a7a7a" text-anchor="start" textLength="4.4" lengthAdjust="spacingAndGlyphs">)</text>
</svg>
</body></html>
